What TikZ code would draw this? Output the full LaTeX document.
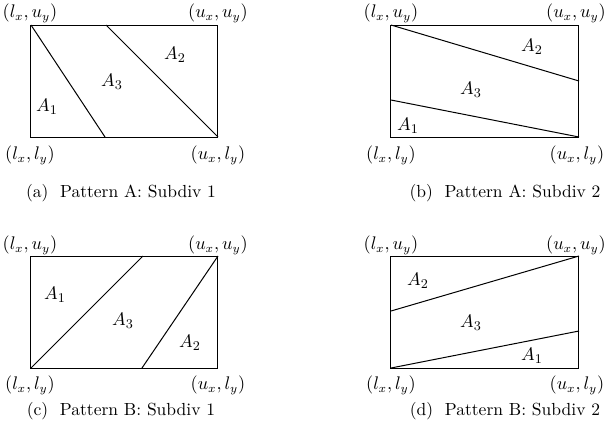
\documentclass[tikz,border=0pt]{standalone}
\begin{document}
\begin{tikzpicture}[x=0.6pt,y=-0.6pt,
  box/.style={draw, line width=0.6pt},
  cut/.style={draw, line width=0.6pt},
  corner/.style={inner sep=0pt, font=\fontsize{10.5}{12}\selectfont},
  area/.style={inner sep=0pt, font=\fontsize{11}{13}\selectfont},
  captext/.style={inner sep=0pt, font=\fontsize{10.5}{12}\selectfont}]
\useasboundingbox (0,0) rectangle (606,436);

% ---------- (a)
\coordinate (aTL) at (31,25);  \coordinate (aTR) at (218,25);
\coordinate (aBL) at (31,137); \coordinate (aBR) at (218,137);
\coordinate (aB1) at (105,137); \coordinate (aT1) at (106,25);
\draw[box] (aBL) rectangle (aTR);
\draw[cut] (aTL) -- (aB1);
\draw[cut] (aT1) -- (aBR);
\node[corner] (aLU) at (30,13) {$(l_x,u_y)$};
\node[corner] (aUU) at (218,13) {$(u_x,u_y)$};
\node[corner] (aLL) at (30,155) {$(l_x,l_y)$};
\node[corner] (aUL) at (218,155) {$(u_x,l_y)$};
\node[area] (aA1) at (47,107) {$A_1$};
\node[area] (aA3) at (112,82) {$A_3$};
\node[area] (aA2) at (175,55) {$A_2$};
\node[captext] (acap) at (121,193) {(a)\ \ Pattern A: Subdiv 1};

% ---------- (b)
\coordinate (bTL) at (391,25);  \coordinate (bTR) at (579,25);
\coordinate (bBL) at (391,137); \coordinate (bBR) at (579,137);
\coordinate (bR1) at (579,81); \coordinate (bL1) at (391,100);
\draw[box] (bBL) rectangle (bTR);
\draw[cut] (bTL) -- (bR1);
\draw[cut] (bL1) -- (bBR);
\node[corner] (bLU) at (391,13) {$(l_x,u_y)$};
\node[corner] (bUU) at (576,13) {$(u_x,u_y)$};
\node[corner] (bLL) at (391,155) {$(l_x,l_y)$};
\node[corner] (bUL) at (577,155) {$(u_x,l_y)$};
\node[area] (bA2) at (532,47) {$A_2$};
\node[area] (bA3) at (471,90) {$A_3$};
\node[area] (bA1) at (408,126) {$A_1$};
\node[captext] (bcap) at (505,193) {(b)\ \ Pattern A: Subdiv 2};

% ---------- (c)
\coordinate (cTL) at (31,256);  \coordinate (cTR) at (218,256);
\coordinate (cBL) at (31,368); \coordinate (cBR) at (218,368);
\coordinate (cT1) at (143,256); \coordinate (cB1) at (142,368);
\draw[box] (cBL) rectangle (cTR);
\draw[cut] (cBL) -- (cT1);
\draw[cut] (cB1) -- (cTR);
\node[corner] (cLU) at (30,245) {$(l_x,u_y)$};
\node[corner] (cUU) at (218,245) {$(u_x,u_y)$};
\node[corner] (cLL) at (30,385) {$(l_x,l_y)$};
\node[corner] (cUL) at (218,385) {$(u_x,l_y)$};
\node[area] (cA1) at (55,295) {$A_1$};
\node[area] (cA3) at (123,321) {$A_3$};
\node[area] (cA2) at (190,343) {$A_2$};
\node[captext] (ccap) at (121,411) {(c)\ \ Pattern B: Subdiv 1};

% ---------- (d)
\coordinate (dTL) at (391,256);  \coordinate (dTR) at (579,256);
\coordinate (dBL) at (391,368); \coordinate (dBR) at (579,368);
\coordinate (dL1) at (391,311); \coordinate (dR1) at (579,331);
\draw[box] (dBL) rectangle (dTR);
\draw[cut] (dL1) -- (dTR);
\draw[cut] (dBL) -- (dR1);
\node[corner] (dLU) at (391,245) {$(l_x,u_y)$};
\node[corner] (dUU) at (576,245) {$(u_x,u_y)$};
\node[corner] (dLL) at (391,385) {$(l_x,l_y)$};
\node[corner] (dUL) at (577,385) {$(u_x,l_y)$};
\node[area] (dA2) at (418,281) {$A_2$};
\node[area] (dA3) at (471,323) {$A_3$};
\node[area] (dA1) at (532,356) {$A_1$};
\node[captext] (dcap) at (505,411) {(d)\ \ Pattern B: Subdiv 2};
\end{tikzpicture}
\end{document}
